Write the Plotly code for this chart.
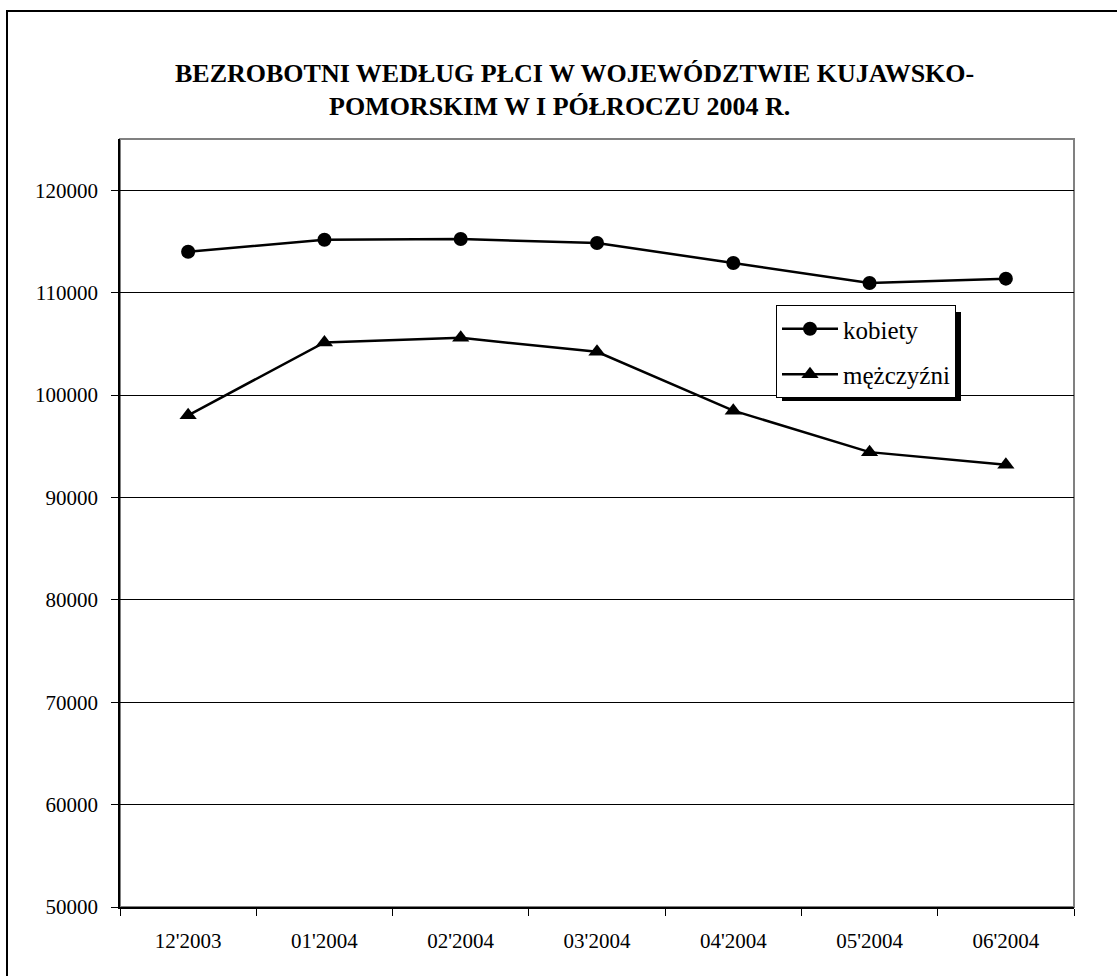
import plotly.graph_objects as go

categories = ["12'2003", "01'2004", "02'2004", "03'2004", "04'2004", "05'2004", "06'2004"]
kobiety = [113990, 115160, 115230, 114840, 112890, 110940, 111360]
mezczyzni = [98020, 105130, 105580, 104220, 98470, 94420, 93180]
y_ticks = [50000, 60000, 70000, 80000, 90000, 100000, 110000, 120000]
title_lines = ["BEZROBOTNI WEDŁUG PŁCI W WOJEWÓDZTWIE KUJAWSKO-",
               "POMORSKIM W I PÓŁROCZU 2004 R."]

W, H = 1117, 976
L, R, T, B = 120, 43, 139, 69
PW, PH = W - L - R, H - T - B

def px(x):
    return (x - L) / PW

def py(y):
    return (H - B - y) / PH

FONT = "Liberation Serif, Times New Roman, serif"

fig = go.Figure()
fig.add_trace(go.Scatter(
    x=categories, y=kobiety, name="kobiety", mode="lines+markers",
    line=dict(color="black", width=2.5),
    marker=dict(symbol="circle", size=14, color="black"),
    legendgroup="a"))
fig.add_trace(go.Scatter(
    x=categories, y=mezczyzni, name="mężczyźni", mode="lines+markers",
    line=dict(color="black", width=2.5),
    marker=dict(symbol="triangle-up", size=15, color="black"),
    legendgroup="b"))

shapes = [
    # outer chart border (extends past right/bottom edge)
    dict(type="rect", xref="paper", yref="paper",
         x0=px(7), x1=px(1140), y0=py(1010), y1=py(11),
         line=dict(color="black", width=2), layer="below"),
    # plot area border
    dict(type="rect", xref="paper", yref="paper",
         x0=0, x1=1, y0=0, y1=1,
         line=dict(color="#808080", width=2), layer="below"),
    # legend shadow
    dict(type="rect", xref="paper", yref="paper",
         x0=px(782), x1=px(961), y0=py(401), y1=py(312),
         line=dict(width=0), fillcolor="black", layer="above"),
]

annotations = [
    dict(text="<b>" + title_lines[0] + "</b>", xref="paper", yref="paper",
         x=px(574), y=py(74), xanchor="center", yanchor="middle", showarrow=False,
         font=dict(family=FONT, size=26, color="black")),
    dict(text="<b>" + title_lines[1] + "</b>", xref="paper", yref="paper",
         x=px(559), y=py(106), xanchor="center", yanchor="middle", showarrow=False,
         font=dict(family=FONT, size=26, color="black")),
]

fig.update_layout(
    width=W, height=H,
    margin=dict(l=L, r=R, t=T, b=B, pad=0),
    paper_bgcolor="white", plot_bgcolor="white",
    font=dict(family=FONT, size=21, color="black"),
    showlegend=True,
    legend=dict(
        x=px(776), y=py(305), xanchor="left", yanchor="top",
        bgcolor="white", bordercolor="black", borderwidth=1,
        font=dict(family=FONT, size=25, color="black"),
        tracegroupgap=10, traceorder="grouped", itemwidth=56,
    ),
    shapes=shapes,
    annotations=annotations,
    xaxis=dict(
        type="category", showgrid=False, zeroline=False,
        showline=True, linecolor="black", linewidth=1.5,
        ticks="outside", tickson="boundaries", ticklen=7, tickcolor="black", tickwidth=1,
        ticklabelstandoff=14, range=[-0.5, 6.5],
        tickfont=dict(family=FONT, size=21, color="black"),
    ),
    yaxis=dict(
        range=[50000, 125000], tickvals=y_ticks, ticktext=[str(v) for v in y_ticks],
        showgrid=True, gridcolor="black", gridwidth=1, zeroline=False,
        showline=True, linecolor="black", linewidth=1.5,
        ticks="outside", ticklen=7, tickcolor="black", tickwidth=1,
        ticklabelstandoff=9,
        tickfont=dict(family=FONT, size=21, color="black"),
    ),
)

fig.write_html("out.html", config={"displayModeBar": False},
               post_script="document.body.style.margin='0';")
